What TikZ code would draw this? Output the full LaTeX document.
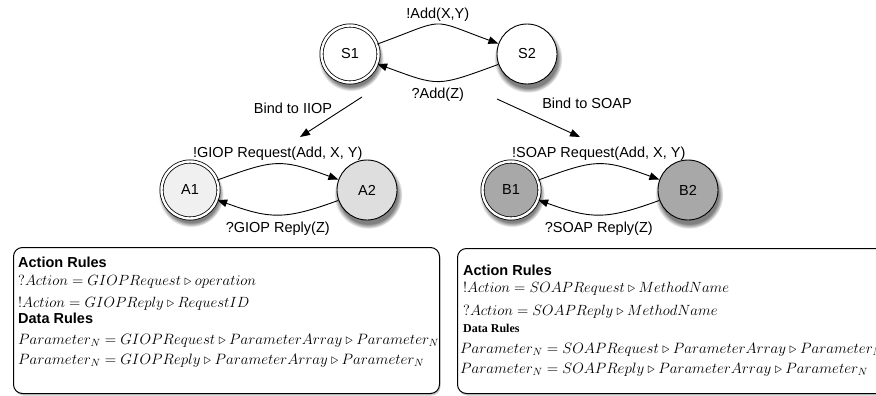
\documentclass[tikz,border=0pt]{standalone}
\usepackage{fix-cm}
\usepackage{fontspec}
\newfontfamily\hel{Liberation Sans}
\newfontfamily\tms{Liberation Serif}
\usetikzlibrary{shadows,arrows.meta}
\definecolor{ga}{gray}{0.94}
\definecolor{gb}{gray}{0.87}
\definecolor{gc}{gray}{0.66}
\begin{document}
\begin{tikzpicture}[x=1pt,y=1pt,
  state/.style={circle,draw,line width=0.9pt,minimum size=60pt,inner sep=0pt,
    font=\hel\fontsize{14.5}{17}\selectfont,
    circular drop shadow={shadow xshift=1pt,shadow yshift=-4pt,shadow scale=1.14}},
  init/.style={state,double,double distance=2.4pt,line width=0.8pt,minimum size=57pt},
  arr/.style={line width=0.9pt,-{Triangle[length=10pt,width=7.5pt]}},
  lab/.style={font=\hel\fontsize{14.5}{17}\selectfont},
  rulebox/.style={draw,line width=1pt,rounded corners=9pt,fill=white,inner sep=0pt,
    drop shadow={shadow xshift=1pt,shadow yshift=-2pt,opacity=0.4}},
  head/.style={anchor=base west,inner sep=0pt,font=\hel\bfseries\fontsize{14.5}{17}\selectfont},
  mline/.style={anchor=base west,inner sep=0pt,font=\fontsize{14.8}{17}\selectfont},
  pline/.style={anchor=base west,inner sep=0pt,font=\fontsize{15}{18}\selectfont}
  ]
\clip (0,0) rectangle (876,-396);
\fill[white] (0,0) rectangle (876,-396);

% states
\node[init,fill=white] (S1) at (350,-54) {S1};
\node[state,fill=white] (S2) at (527,-54) {S2};
\node[init,fill=ga] (A1) at (190,-190) {A1};
\node[state,fill=gb] (A2) at (367,-190) {A2};
\node[init,fill=gc] (B1) at (511,-190) {B1};
\node[state,fill=gc] (B2) at (688,-190) {B2};

% transitions
\draw[arr] (S1) to[out=20,in=160,looseness=1.6] node[lab,above=-1pt] (l1) {!Add(X,Y)} (S2);
\draw[arr] (S2) to[out=200,in=-20,looseness=1.4] node[lab,below=3.5pt] (l2) {?Add(Z)} (S1);
\draw[arr] (A1) to[out=20,in=160,looseness=1.3] node[lab,above] (l3) {!GIOP Request(Add, X, Y)} (A2);
\draw[arr] (A2) to[out=200,in=-20,looseness=1.2] node[lab,below=3.5pt] (l4) {?GIOP Reply(Z)} (A1);
\draw[arr] (B1) to[out=20,in=160,looseness=1.3] node[lab,above] (l5) {!SOAP Request(Add, X, Y)} (B2);
\draw[arr] (B2) to[out=200,in=-20,looseness=1.2] node[lab,below=3.5pt] (l6) {?SOAP Reply(Z)} (B1);

% bindings
\coordinate (i0) at (362,-97);
\coordinate (i1) at (300,-137);
\coordinate (s0) at (497,-99);
\coordinate (s1) at (580,-137);
\draw[arr] (i0) -- (i1);
\draw[arr] (s0) -- (s1);
\node[lab] (bi) at (293,-108) {Bind to IIOP};
\node[lab] (bs) at (587,-103) {Bind to SOAP};

% rule boxes
\node[rulebox,anchor=north west,minimum width=426pt,minimum height=146pt] (LB) at (13,-247) {};
\node[rulebox,anchor=north west,minimum width=470pt,minimum height=145pt] (RB) at (457,-248) {};

\node[head] (la) at (18,-267) {Action Rules};
\node[mline] (la1) at (18,-285) {$?Action = GIOPRequest \triangleright operation$};
\node[mline] (la2) at (18,-307) {$!Action = GIOPReply \triangleright RequestID$};
\node[head] (ld) at (18,-323) {Data Rules};
\node[pline] (ld1) at (18,-344) {$Parameter_N = GIOPRequest \triangleright ParameterArray \triangleright Parameter_N$};
\node[pline] (ld2) at (18,-364) {$Parameter_N = GIOPReply \triangleright ParameterArray \triangleright Parameter_N$};

\node[head] (ra) at (463,-275) {Action Rules};
\node[mline] (ra1) at (463,-292) {$!Action = SOAPRequest \triangleright MethodName$};
\node[mline] (ra2) at (463,-315) {$?Action = SOAPReply \triangleright MethodName$};
\node[anchor=base west,inner sep=0pt,font=\tms\bfseries\fontsize{12}{14}\selectfont] (rd) at (463,-332) {Data Rules};
\node[pline] (rd1) at (460,-353) {$Parameter_N = SOAPRequest \triangleright ParameterArray \triangleright Parameter_N$};
\node[pline] (rd2) at (460,-373) {$Parameter_N = SOAPReply \triangleright ParameterArray \triangleright Parameter_N$};
\end{tikzpicture}
\end{document}
